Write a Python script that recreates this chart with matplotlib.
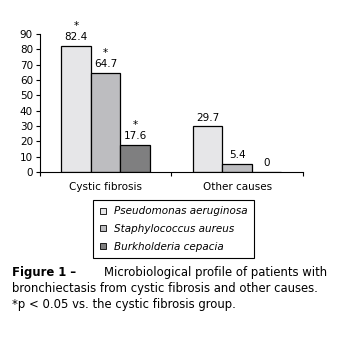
import numpy as np
import matplotlib.pyplot as plt
from matplotlib.lines import Line2D

groups = ["Cystic fibrosis", "Other causes"]
species = ["Pseudomonas aeruginosa", "Staphylococcus aureus", "Burkholderia cepacia"]
cf_values = [82.4, 64.7, 17.6]
other_values = [29.7, 5.4, 0]
cf_significant = [True, True, True]
colors = ["#e6e6e8", "#bdbdc0", "#7f7f80"]

plt.rcParams["font.family"] = "DejaVu Sans"
fig = plt.figure(figsize=(3.38, 3.39), dpi=100)
ax = fig.add_axes([0.118, 0.493, 0.778, 0.407])

x = np.arange(len(groups))
w = 0.224
series = np.array([cf_values, other_values]).T
for i, name in enumerate(species):
    pos = x + (i - 1) * w
    ax.bar(pos, series[i], width=w, color=colors[i], edgecolor="black", linewidth=0.9)
    for j, v in enumerate(series[i]):
        ax.text(pos[j], v + 2.5, f"{v:g}", ha="center", va="bottom", fontsize=7.5)
        if j == 0 and cf_significant[i]:
            ax.text(pos[j], v + 9.5, "*", ha="center", va="bottom", fontsize=7.5)

ax.set_xlim(-0.5, 1.5)
ax.set_ylim(0, 90)
ax.set_yticks(range(0, 91, 10))
ax.set_xticks([-0.5, 0.5, 1.5])
ax.set_xticklabels([])
ax.tick_params(axis="both", labelsize=7.5, length=3, width=0.8, pad=2)
for s in ["top", "right"]:
    ax.spines[s].set_visible(False)
for s in ["left", "bottom"]:
    ax.spines[s].set_linewidth(0.8)
for j, g in enumerate(groups):
    ax.text(x[j], -0.075, g, transform=ax.get_xaxis_transform(),
            ha="center", va="top", fontsize=7.5)

handles = [Line2D([], [], marker="s", linestyle="none", markersize=5,
                  markerfacecolor=c, markeredgecolor="black", markeredgewidth=0.6)
           for c in colors]
leg = fig.legend(handles, species, loc="upper left", bbox_to_anchor=(0.275, 0.41),
                 bbox_transform=fig.transFigure, borderaxespad=0, fancybox=False,
                 edgecolor="black", framealpha=1,
                 prop={"style": "italic", "size": 7.5},
                 handlelength=0.8, handletextpad=0.6, borderpad=0.6, labelspacing=0.75)
leg.get_frame().set_linewidth(0.8)

# caption, right edge of the first two lines flush at 0.967
fs = 8.4
fig.text(0.035, 0.195, "Figure 1 \u2013", fontsize=fs, fontweight="bold", va="center")
fig.text(0.967, 0.195, "Microbiological profile of patients with", fontsize=fs,
         va="center", ha="right")
fig.text(0.035, 0.150, "bronchiectasis from cystic fibrosis and other causes.",
         fontsize=fs, va="center")
fig.text(0.035, 0.103, "*p < 0.05 vs. the cystic fibrosis group.", fontsize=fs, va="center")

fig.savefig("out.png", dpi=100)
